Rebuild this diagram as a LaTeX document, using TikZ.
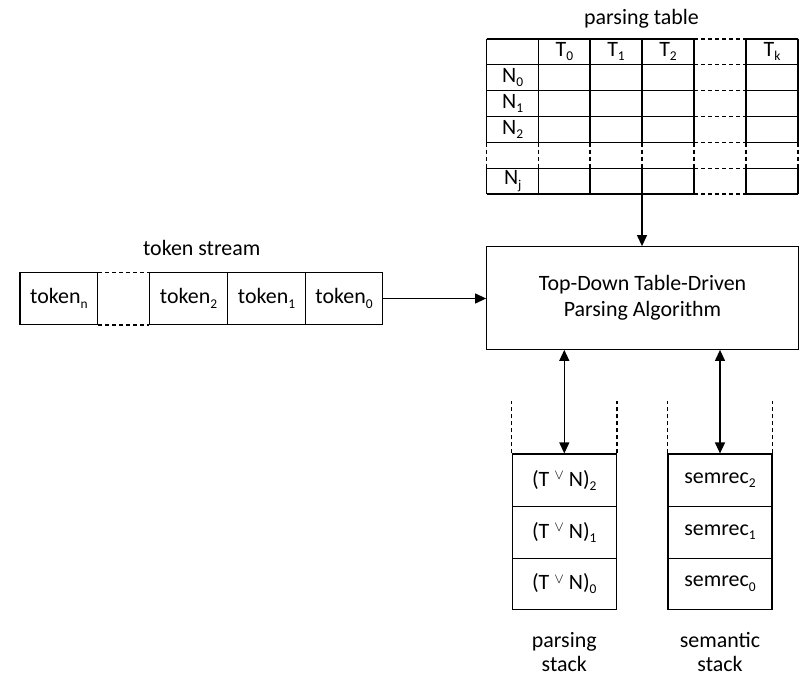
\documentclass[tikz,border=0pt]{standalone}
\usepackage{fontspec}
\setmainfont{Carlito}
\usetikzlibrary{arrows.meta}
\newcommand\sbx[1]{\raisebox{-0.2em}{\fontsize{13.5}{13.5}\selectfont #1}}
\newcommand\orv{\raisebox{0.3em}{\fontsize{15}{15}\selectfont$\vee$}}
\begin{document}
\begin{tikzpicture}[x=1bp,y=-1bp, line width=1.2bp,
 lbl/.style={font=\fontsize{22}{25.6}\selectfont, inner sep=0pt},
 cell/.style={lbl, draw, minimum height=51.6bp},
 dsh/.style={dash pattern=on 4bp off 3bp},
 arr/.style={-{Triangle[length=11bp,width=10bp]}},
 darr/.style={{Triangle[length=11bp,width=10bp]}-{Triangle[length=11bp,width=10bp]}}]
\useasboundingbox (0,0) rectangle (801,678);
% ---------- parsing table ----------
\foreach \x in {486.7,538.7,590,642,694,746,798}{
  \draw (\x,39) -- (\x,142.7);
  \draw[dsh] (\x,142.7) -- (\x,168.3);
  \draw (\x,168.3) -- (\x,194);
}
\foreach \y in {39,64.3,90.7,116.7,142.7,168.3,194}{
  \draw (486.7,\y) -- (694,\y);
  \draw[dsh] (694,\y) -- (746,\y);
  \draw (746,\y) -- (798,\y);
}
\node[lbl] (ptl) at (641.5,19) {parsing table};
\node[lbl] (h0) at (564.4,51.7) {T\sbx{0}};
\node[lbl] (h1) at (616,51.7) {T\sbx{1}};
\node[lbl] (h2) at (668,51.7) {T\sbx{2}};
\node[lbl] (hk) at (772,51.7) {T\sbx{k}};
\node[lbl] (n0) at (512.7,77.5) {N\sbx{0}};
\node[lbl] (n1) at (512.7,103.7) {N\sbx{1}};
\node[lbl] (n2) at (512.7,129.7) {N\sbx{2}};
\node[lbl] (nj) at (512.7,181.2) {N\sbx{j}};
\coordinate (tb) at (642,194);
% ---------- algorithm box ----------
\node[lbl, draw, minimum width=311.6bp, minimum height=102.6bp, align=center] (alg) at (642.5,298) {Top-Down Table-Driven\\Parsing Algorithm};
\draw[arr] (tb) -- (tb |- alg.north);
% ---------- token stream ----------
\node[lbl] (tsl) at (201.7,248) {token stream};
\node[cell, minimum width=77.7bp] (tokn) at (58.85,298.5) {token\sbx{n}};
\node[cell, minimum width=78.4bp] (tok2) at (188.5,298.5) {token\sbx{2}};
\node[cell, minimum width=77.6bp] (tok1) at (266.5,298.5) {token\sbx{1}};
\node[cell, minimum width=77.4bp] (tok0) at (344,298.5) {token\sbx{0}};
\draw[dsh] (tokn.north east) -- (tok2.north west);
\draw[dsh] (tokn.south east) -- (tok2.south west);
\draw[arr] (tok0.east) -- (tok0.east -| alg.west);
% ---------- parsing stack ----------
\node[cell, minimum width=104bp, minimum height=52.3bp] (ps2) at (564.3,480.2) {(T \orv{} N)\sbx{2}};
\node[cell, minimum width=104bp, minimum height=52bp] (ps1) at (564.3,532.3) {(T \orv{} N)\sbx{1}};
\node[cell, minimum width=104bp, minimum height=51bp] (ps0) at (564.3,583.8) {(T \orv{} N)\sbx{0}};
\draw[dsh] (ps2.north west) -- ++(0,-52);
\draw[dsh] (ps2.north east) -- ++(0,-52);
\draw[darr] (ps2.north) -- (ps2.north |- alg.south);
\node[lbl, align=center, font=\fontsize{22}{24}\selectfont] (psl) at (564.3,652) {parsing\\stack};
% ---------- semantic stack ----------
\node[cell, minimum width=104bp, minimum height=52.3bp] (ss2) at (720,480.2) {semrec\sbx{2}};
\node[cell, minimum width=104bp, minimum height=52bp] (ss1) at (720,532.3) {semrec\sbx{1}};
\node[cell, minimum width=104bp, minimum height=51bp] (ss0) at (720,583.8) {semrec\sbx{0}};
\draw[dsh] (ss2.north west) -- ++(0,-52);
\draw[dsh] (ss2.north east) -- ++(0,-52);
\draw[darr] (ss2.north) -- (ss2.north |- alg.south);
\node[lbl, align=center, font=\fontsize{22}{24}\selectfont] (ssl) at (720,652) {semantic\\stack};
\end{tikzpicture}
\end{document}
